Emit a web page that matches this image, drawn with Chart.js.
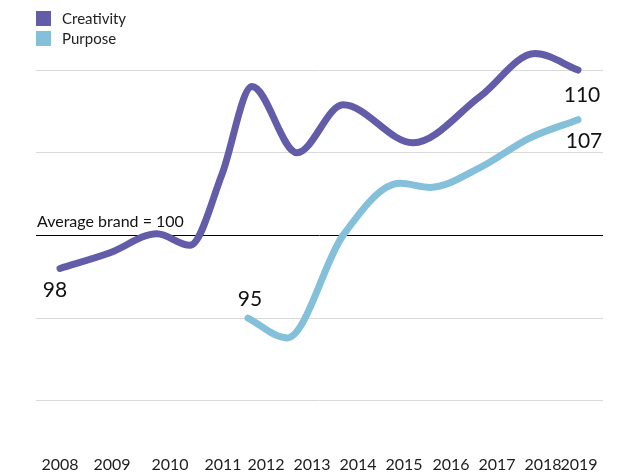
<!DOCTYPE html>
<html>
<head>
<meta charset="utf-8">
<script src="https://cdn.jsdelivr.net/npm/chart.js@4"></script>
<style>
  html, body { margin: 0; padding: 0; background: #fff; overflow: hidden; }
  #wrap { position: relative; width: 635px; height: 475px; }
  #legend { position: absolute; left: 36px; top: 8px; font-family: Lato, "Open Sans", sans-serif; font-size: 15px; color: #222; }
  .item { display: flex; align-items: center; height: 20px; }
  .box { width: 15px; height: 15px; margin-right: 11px; }
</style>
</head>
<body>
<div id="wrap">
  <canvas id="c" width="635" height="475"></canvas>
  <div id="legend"></div>
</div>
<script>
// Timeline positions (axis units) of the year tick labels
const yearLabels = ['2008','2009','2010','2011','2012','2013','2014','2015','2016','2017','2018','2019'];
const yearPos = [24, 76, 134, 187, 230, 276, 322, 368, 415, 461, 507, 543];

// Series (timeline position, index value)
const creativityX = [24, 74, 121, 154, 186, 216, 261, 307, 377, 444, 499, 542];
const creativityY = [98.0, 98.95, 100.1, 99.4, 103.7, 109.0, 105.0, 107.9, 105.6, 108.4, 111.0, 110.0];
const purposeX = [212, 251, 307, 364, 394, 444, 494, 542];
const purposeY = [95.0, 93.8, 100.0, 103.15, 102.9, 104.1, 105.9, 107.0];

const yTicks = [90, 95, 100, 105, 110];
const seriesNames = ['Creativity', 'Purpose'];
const seriesColors = ['#625CA9', '#84C0DA'];
const startLabels = ['98', '95'];
const endLabels = ['110', '107'];
const averageText = 'Average brand = 100';

const FONT = 'Lato, "Open Sans", sans-serif';

// HTML legend
const leg = document.getElementById('legend');
seriesNames.forEach((n, i) => {
  const d = document.createElement('div'); d.className = 'item';
  const b = document.createElement('span'); b.className = 'box'; b.style.background = seriesColors[i];
  const t = document.createElement('span'); t.textContent = n;
  d.appendChild(b); d.appendChild(t); leg.appendChild(d);
});

const toPts = (xs, ys) => xs.map((x, i) => ({ x: x, y: ys[i] }));

const labelPlugin = {
  id: 'labels',
  afterDatasetsDraw(chart) {
    const ctx = chart.ctx;
    const ys = chart.scales.y;
    const area = chart.chartArea;
    ctx.save();
    ctx.fillStyle = '#111';
    ctx.font = '16px ' + FONT;
    ctx.textAlign = 'left';
    ctx.textBaseline = 'alphabetic';
    ctx.fillText(averageText, area.left + 1, ys.getPixelForValue(100) - 8);

    ctx.font = '21px ' + FONT;
    ctx.textAlign = 'center';
    ctx.textBaseline = 'middle';
    const offs = [
      { s: [-5, 22], e: [4, 25] },
      { s: [2, -19], e: [6, 22] }
    ];
    chart.data.datasets.forEach((ds, i) => {
      const meta = chart.getDatasetMeta(i);
      const first = meta.data[0], last = meta.data[meta.data.length - 1];
      ctx.fillText(startLabels[i], first.x + offs[i].s[0], first.y + offs[i].s[1]);
      ctx.fillText(endLabels[i], last.x + offs[i].e[0], last.y + offs[i].e[1]);
    });
    ctx.restore();
  }
};

new Chart(document.getElementById('c'), {
  type: 'line',
  data: {
    datasets: [
      { label: seriesNames[0], data: toPts(creativityX, creativityY) },
      { label: seriesNames[1], data: toPts(purposeX, purposeY) }
    ].map((d, i) => Object.assign(d, {
      borderColor: seriesColors[i],
      backgroundColor: seriesColors[i],
      borderWidth: 7,
      borderCapStyle: 'round',
      borderJoinStyle: 'round',
      pointRadius: 0,
      cubicInterpolationMode: 'monotone',
      fill: false,
      clip: false
    }))
  },
  options: {
    responsive: false,
    animation: false,
    layout: { padding: { left: 36, right: 32, top: 37, bottom: -20 } },
    plugins: { legend: { display: false }, tooltip: { enabled: false } },
    scales: {
      x: {
        type: 'linear',
        min: 0, max: 567,
        afterBuildTicks: s => { s.ticks = yearPos.map(v => ({ value: v })); },
        ticks: {
          autoSkip: false, maxRotation: 0, padding: 21,
          color: '#1e1e1e',
          font: { family: FONT, size: 16 },
          callback: (v, i) => yearLabels[i]
        },
        grid: { display: false, drawTicks: false },
        border: { display: false }
      },
      y: {
        min: 88, max: 112,
        afterBuildTicks: s => { s.ticks = yTicks.map(v => ({ value: v })); },
        ticks: { display: false },
        grid: {
          drawTicks: false,
          color: c => (c.tick && c.tick.value === 100) ? '#000' : '#d9d9d9',
          lineWidth: 1
        },
        border: { display: false }
      }
    }
  },
  plugins: [labelPlugin]
});
</script>
</body>
</html>
